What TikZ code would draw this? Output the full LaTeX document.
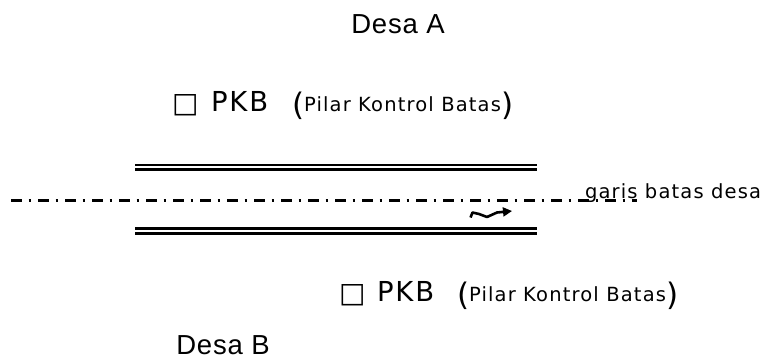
\documentclass[tikz,border=0pt]{standalone}
\usepackage{fontspec}
\usetikzlibrary{arrows.meta}
\newfontfamily\arialf[LetterSpace=3]{Liberation Sans}
\newfontfamily\bigtf[LetterSpace=7]{DejaVu Sans}
\newfontfamily\tahf[LetterSpace=6]{DejaVu Sans}
\newfontfamily\symf{DejaVu Sans}
\tikzset{
  txt/.style={inner sep=0pt, outer sep=0pt},
  desa/.style={txt, anchor=base, font=\arialf\fontsize{27.5}{30}\selectfont},
  big/.style={txt, anchor=base west, font=\bigtf\fontsize{27.5}{30}\selectfont},
  paren/.style={txt, anchor=base west, font=\symf\fontsize{31}{34}\selectfont},
  small/.style={txt, anchor=base west, font=\tahf\fontsize{19.5}{22}\selectfont},
  sq/.style={txt, anchor=base west, font=\symf\fontsize{28}{30}\selectfont},
  road/.style={line width=2.6pt},
  border/.style={line width=2.4pt, dash pattern=on 11pt off 6.5pt on 2.4pt off 7.1pt, dash phase=21pt},
  squig/.style={line width=2.6pt, line join=round, -{Triangle[length=9pt,width=9pt]}}
}
\begin{document}
\begin{tikzpicture}[x=1pt,y=-1pt]
\useasboundingbox (0,0) rectangle (765,360);
% titles
\node[desa] (desaA) at (398,33) {Desa A};
\node[desa] (desaB) at (223,354) {Desa B};
% upper PKB
\node[sq] (sqA) at (172,112) {□};
\node[big] (pkbA) at (211,111) {PKB};
\node[paren] (lpA) at (292,115) {(};
\node[small] (txtA) at (304,111) {Pilar Kontrol Batas};
\node[paren] (rpA) at (txtA.base east) [anchor=base west, yshift=-4pt] {)};
% lower PKB
\node[sq] (sqB) at (339,302) {□};
\node[big] (pkbB) at (377,301) {PKB};
\node[paren] (lpB) at (457,305) {(};
\node[small] (txtB) at (469,301) {Pilar Kontrol Batas};
\node[paren] (rpB) at (txtB.base east) [anchor=base west, yshift=-4pt] {)};
% road
\coordinate (r1a) at (135,164.8); \coordinate (r1b) at (537,164.8);
\coordinate (r2a) at (135,169.5); \coordinate (r2b) at (537,169.5);
\coordinate (r3a) at (135,228.7); \coordinate (r3b) at (537,228.7);
\coordinate (r4a) at (135,233.2); \coordinate (r4b) at (537,233.2);
\draw[road, line width=2.2pt] (r1a) -- (r1b);
\draw[road] (r2a) -- (r2b);
\draw[road] (r3a) -- (r3b);
\draw[road] (r4a) -- (r4b);
% border line
\coordinate (bA) at (5,200.5); \coordinate (bB) at (637,200.5);
\draw[border] (bA) -- (bB);
\node[small] (garis) at (585,198.5) {garis batas desa};
% squiggle arrow
\coordinate (s0) at (470.5,217.5);
\coordinate (s1) at (472.5,212.5);
\coordinate (s2) at (479,214);
\coordinate (s3) at (487,217);
\coordinate (s4) at (497,212.5);
\coordinate (s5) at (512,211);
\draw[squig] (s0) -- (s1) -- (s2) -- (s3) -- (s4) -- (s5);
\end{tikzpicture}
\end{document}
